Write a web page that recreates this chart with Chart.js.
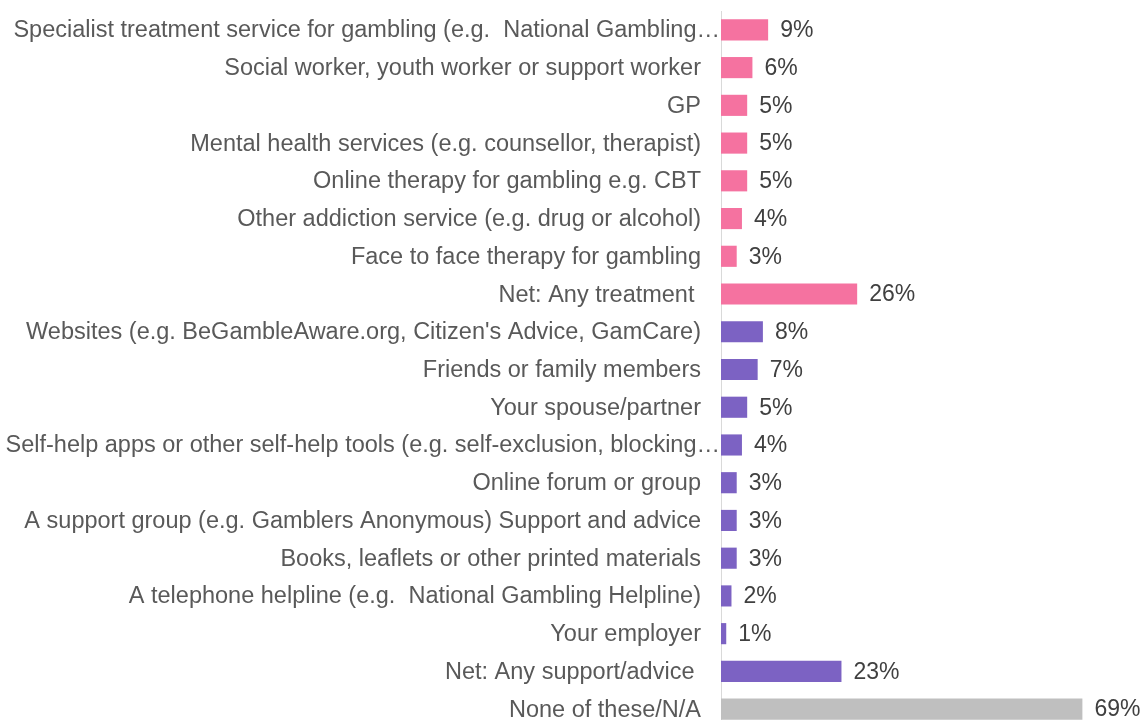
<!DOCTYPE html>
<html>
<head>
<meta charset="utf-8">
<script src="https://cdn.jsdelivr.net/npm/chart.js@4/dist/chart.umd.min.js"></script>
<style>
	html, body { margin: 0; padding: 0; background: #fff; overflow: hidden; }
	#wrap { width: 1142px; height: 740px; position: relative; }
</style>
</head>
<body>
<div id="wrap"><canvas id="myChart"></canvas></div>
<script>
var categories = [
	'Specialist treatment service for gambling (e.g.  National Gambling\u2026',
	'Social worker, youth worker or support worker',
	'GP',
	'Mental health services (e.g. counsellor, therapist)',
	'Online therapy for gambling e.g. CBT',
	'Other addiction service (e.g. drug or alcohol)',
	'Face to face therapy for gambling',
	'Net: Any treatment ',
	'Websites (e.g. BeGambleAware.org, Citizen\'s Advice, GamCare)',
	'Friends or family members',
	'Your spouse/partner',
	'Self-help apps or other self-help tools (e.g. self-exclusion, blocking\u2026',
	'Online forum or group',
	'A support group (e.g. Gamblers Anonymous) Support and advice',
	'Books, leaflets or other printed materials',
	'A telephone helpline (e.g.  National Gambling Helpline)',
	'Your employer',
	'Net: Any support/advice ',
	'None of these/N/A'
];
var percentages = [9, 6, 5, 5, 5, 4, 3, 26, 8, 7, 5, 4, 3, 3, 3, 2, 1, 23, 69];
// which block each row belongs to
var groups = ['treatment', 'treatment', 'treatment', 'treatment', 'treatment', 'treatment', 'treatment', 'treatment',
	'support', 'support', 'support', 'support', 'support', 'support', 'support', 'support', 'support', 'support',
	'none'];

var groupColor = { treatment: '#F572A0', support: '#7C62C3', none: '#BFBFBF' };

// category names on the left and "n%" after each bar
var textPlugin = {
	id: 'rowText',
	afterDatasetsDraw: function (chart) {
		var ctx = chart.ctx;
		var yScale = chart.scales.y;
		var xScale = chart.scales.x;
		ctx.save();
		ctx.textBaseline = 'middle';
		for (var i = 0; i < categories.length; i++) {
			var y = yScale.getPixelForValue(i);
			var name = categories[i];
			ctx.font = '23.5px "Liberation Sans", Arial, sans-serif';
			ctx.fillStyle = '#595959';
			ctx.textAlign = 'right';
			// cut-off names run up to the axis line
			var right = name.slice(-1) == '\u2026' ? chart.chartArea.left - 1 : chart.chartArea.left - 20;
			ctx.fillText(name, right, y + 1);

			ctx.font = '23px "Liberation Sans", Arial, sans-serif';
			ctx.fillStyle = '#404040';
			ctx.textAlign = 'left';
			ctx.fillText(percentages[i] + '%', xScale.getPixelForValue(percentages[i]) + 12, y + 1);
		}
		ctx.restore();
	}
};

var flightChart = new Chart(document.getElementById('myChart'), {
	type: 'bar',
	data: {
		labels: categories,
		datasets: [{
			data: percentages,
			backgroundColor: groups.map(function (g) { return groupColor[g]; }),
			borderWidth: 0,
			categoryPercentage: 1,
			barPercentage: 0.56
		}]
	},
	options: {
		indexAxis: 'y',
		responsive: true,
		maintainAspectRatio: false,
		animation: false,
		layout: {
			padding: { left: 721, right: 2, top: 11, bottom: 12 }
		},
		plugins: {
			legend: { display: false },
			tooltip: { enabled: false }
		},
		scales: {
			x: {
				min: 0,
				max: 80,
				display: false
			},
			y: {
				grid: { display: false, drawTicks: false },
				ticks: { display: false },
				border: { display: true, color: '#D9D9D9', width: 1 }
			}
		}
	},
	plugins: [textPlugin]
});
</script>
</body>
</html>
